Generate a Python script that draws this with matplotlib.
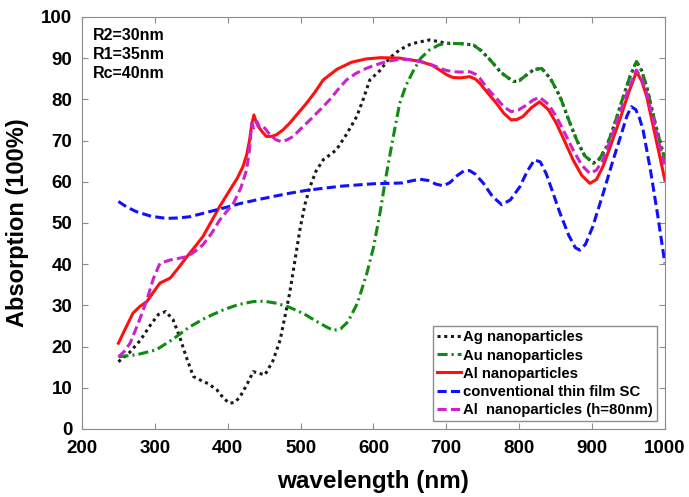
import matplotlib.pyplot as plt

plt.rcParams['font.family'] = 'Liberation Sans'
plt.rcParams['font.weight'] = 'bold'

# data
ag_x = [250, 265, 280, 295, 305, 315, 325, 334, 343, 353, 363, 373, 385, 395, 403, 410,
        417, 427, 435, 443, 451, 462, 472, 485, 499, 506, 513, 521, 531, 549, 563, 577,
        586, 595, 609, 622, 636, 650, 660, 677, 690, 700, 720, 737, 748, 760, 775, 792,
        800, 810, 820, 831, 843, 856, 868, 879, 890, 902, 910, 920, 930, 943, 952, 961,
        968, 975, 987, 1000]
ag_y = [16.3, 18.5, 21.5, 25.5, 27.8, 28.5, 26.5, 22.4, 17.5, 12.7, 11.8, 11.0, 9.5, 7.3, 6.2, 6.5,
        7.8, 11.0, 13.9, 13.5, 13.1, 16.5, 21.6, 32.9, 48.3, 54.5, 58.8, 62.5, 65.3, 67.7, 71.5, 75.8,
        80.0, 84.7, 87.0, 90.0, 92.0, 93.3, 93.8, 94.4, 94.0, 93.6, 93.5, 93.2, 91.8, 89.6, 86.5, 84.3,
        84.5, 85.9, 87.2, 87.5, 85.0, 80.7, 75.0, 70.1, 66.3, 64.5, 65.5, 68.5, 73.5, 80.7, 85.5, 89.2,
        87.0, 83.1, 74.0, 65.3]

au_x = [250, 275, 302, 325, 348, 370, 394, 415, 435, 450, 467, 485, 504, 520, 535, 545,
        555, 565, 578, 591, 600, 609, 616, 623, 630, 636, 645, 655, 665, 677, 690, 700,
        720, 737, 748, 760, 775, 792, 800, 810, 820, 831, 843, 856, 868, 879, 890, 902,
        910, 920, 930, 943, 952, 961, 968, 975, 987, 1000]
au_y = [17.5, 18.0, 19.2, 21.8, 24.8, 27.0, 28.9, 30.2, 30.9, 31.0, 30.5, 29.5, 28.0, 26.3, 24.8, 23.9,
        24.3, 26.0, 30.5, 37.8, 44.0, 52.4, 60.0, 66.9, 73.5, 79.0, 83.5, 87.0, 90.0, 92.0, 93.2, 93.6,
        93.5, 93.2, 91.8, 89.6, 86.5, 84.3, 84.5, 85.9, 87.2, 87.5, 85.0, 80.7, 75.0, 70.1, 66.3, 64.5,
        65.5, 68.5, 73.5, 80.7, 85.5, 89.2, 87.0, 83.1, 74.0, 65.3]

al_x = [250, 260, 270, 280, 289, 298, 307, 321, 332, 344, 355, 366, 378, 389, 403, 413,
        421, 426, 430, 433, 436, 439, 442, 447, 453, 460, 467, 476, 485, 496, 508, 520,
        531, 550, 570, 590, 610, 636, 664, 680, 691, 700, 709, 720, 732, 740, 746, 757,
        769, 779, 789, 797, 805, 817, 828, 840, 851, 862, 874, 886, 897, 906, 915, 926,
        938, 950, 961, 968, 975, 987, 1000]
al_y = [20.8, 24.5, 28.1, 29.8, 30.9, 33.2, 35.4, 36.6, 39.0, 41.8, 44.2, 46.7, 50.5, 54.0, 58.0, 60.8,
        63.7, 66.5, 70.1, 74.0, 76.2, 74.5, 73.4, 72.2, 71.0, 71.0, 71.4, 72.6, 74.2, 76.5, 79.0, 81.8,
        84.7, 87.3, 89.0, 89.8, 90.1, 90.0, 89.2, 88.3, 87.1, 86.0, 85.3, 85.2, 85.5, 84.9, 83.9, 81.5,
        79.0, 76.6, 75.0, 75.1, 75.8, 78.0, 79.4, 77.5, 74.2, 70.0, 65.3, 61.5, 59.6, 60.5, 63.7, 69.0,
        75.0, 81.5, 86.7, 84.5, 80.7, 71.0, 60.4]

sc_x = [250, 262, 275, 295, 316, 332, 348, 370, 394, 417, 440, 462, 485, 508, 531, 555,
        577, 600, 622, 640, 652, 664, 675, 686, 696, 705, 715, 724, 732, 740, 751, 763,
        776, 788, 801, 811, 821, 829, 837, 846, 856, 868, 877, 883, 891, 901, 915, 929,
        941, 948, 954, 960, 965, 970, 980, 990, 1000]
sc_y = [55.2, 53.8, 52.7, 51.6, 51.1, 51.2, 51.5, 52.5, 53.6, 54.7, 55.6, 56.4, 57.2, 57.9, 58.4, 58.9,
        59.2, 59.5, 59.6, 59.7, 60.2, 60.6, 60.3, 59.4, 59.0, 59.8, 61.5, 62.6, 62.7, 61.8, 59.6, 56.5,
        54.4, 55.6, 58.8, 62.5, 65.3, 64.8, 62.0, 57.5, 52.4, 47.0, 44.0, 43.4, 44.8, 49.1, 57.0, 65.3,
        72.0, 76.0, 78.2, 77.5, 75.5, 72.6, 63.0, 52.0, 40.2]

alh_x = [250, 258, 266, 278, 289, 298, 307, 321, 344, 356, 366, 378, 389, 408, 418, 426,
         430, 433, 436, 440, 444, 449, 458, 466, 474, 482, 490, 500, 513, 527, 540, 552,
         563, 576, 590, 609, 622, 636, 650, 664, 676, 687, 698, 709, 720, 732, 740, 746,
         757, 769, 779, 789, 799, 810, 819, 828, 840, 851, 862, 874, 886, 897, 906, 915,
         926, 938, 950, 961, 968, 975, 987, 1000]
alh_y = [17.5, 18.8, 20.8, 26.0, 31.3, 36.5, 40.2, 41.0, 41.8, 43.2, 44.7, 47.5, 50.7, 54.8, 58.5, 62.9,
         68.0, 74.2, 73.0, 74.6, 73.2, 73.4, 71.4, 70.2, 69.7, 70.2, 71.0, 72.8, 75.0, 77.5, 79.9, 82.5,
         84.7, 86.3, 87.5, 88.7, 89.3, 89.7, 89.6, 89.2, 88.6, 87.9, 87.1, 86.7, 86.6, 86.7, 86.1, 85.1,
         82.5, 80.2, 78.2, 77.0, 77.4, 78.6, 79.8, 80.5, 78.8, 75.8, 72.0, 67.7, 64.0, 62.0, 62.8, 65.3,
         70.5, 76.6, 82.5, 87.1, 85.0, 81.5, 73.0, 63.7]

fig = plt.figure(figsize=(6.89, 4.97), dpi=100)
ax = fig.add_axes([0.119, 0.137, 0.846, 0.829])

ax.plot(ag_x, ag_y, color='0.1', linestyle=(0, (1, 1.2)), lw=2.2, label='Ag nanoparticles')
ax.plot(au_x, au_y, color='#108a10', linestyle=(0, (3.3, 1.3, 0.7, 1.3)), lw=2.2, label='Au nanoparticles')
ax.plot(al_x, al_y, color='#ff1010', linestyle='solid', lw=2.2, label='Al nanoparticles')
ax.plot(sc_x, sc_y, color='#1010ff', linestyle=(0, (3, 1.4)), lw=2.2, label='conventional thin film SC')
ax.plot(alh_x, alh_y, color='#cc22cc', linestyle=(0, (3, 1.4)), lw=2.2, label='Al  nanoparticles (h=80nm)')

ax.set_xlim(200, 1000)
ax.set_ylim(0, 100)
ax.set_xticks(range(200, 1001, 100))
ax.set_yticks(range(0, 101, 10))
ax.tick_params(direction='in', length=4, color='0.55', labelsize=13.5, top=True, right=True)
ax.tick_params(axis='x', pad=8)
ax.tick_params(axis='y', pad=7)
for s in ax.spines.values():
    s.set_color('0.55')
ax.set_xlabel('wavelength (nm)', fontsize=17.5, fontweight='bold', labelpad=9)
ax.set_ylabel('Absorption (100%)', fontsize=17, fontweight='bold', labelpad=9)

ax.text(0.019, 0.972, 'R2=30nm\nR1=35nm\nRc=40nm', transform=ax.transAxes,
        fontsize=11.5, fontweight='bold', va='top', linespacing=1.3)

leg = ax.legend(loc='lower right', fontsize=10.7, handlelength=1.6, handletextpad=0.15,
                borderpad=0.3, labelspacing=0.28, fancybox=False, framealpha=1,
                borderaxespad=0.5)
leg.get_frame().set_edgecolor('0.55')

fig.savefig('out.png', dpi=100)
